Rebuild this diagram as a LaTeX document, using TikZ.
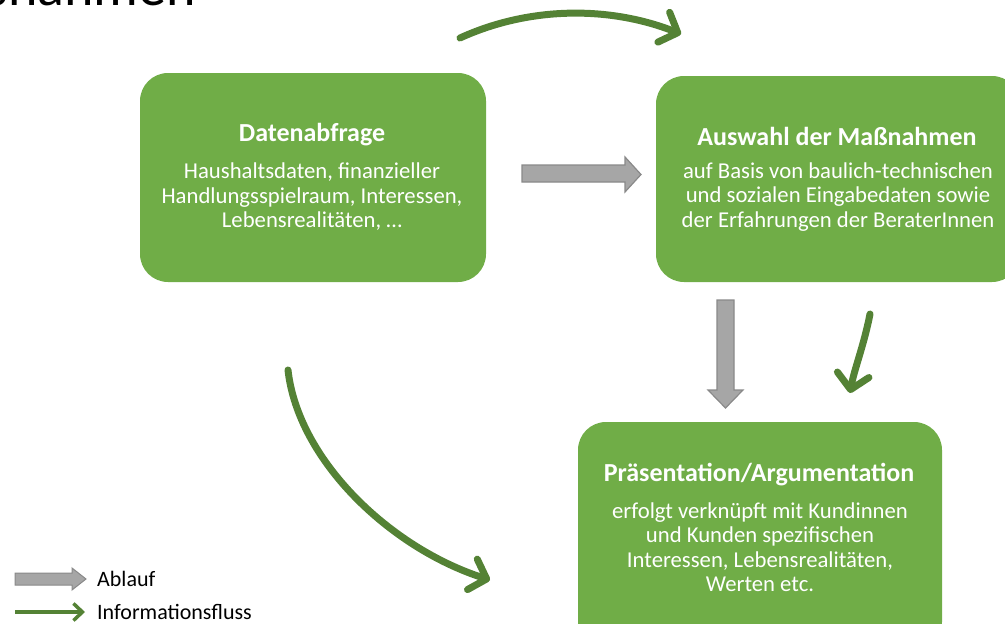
\documentclass[tikz,border=0pt]{standalone}
\usepackage{fontspec}
\setmainfont{Carlito}
\usetikzlibrary{arrows.meta}
\definecolor{boxgreen}{RGB}{112,173,71}
\definecolor{flowgreen}{RGB}{84,130,53}
\definecolor{arrowgray}{RGB}{166,166,166}
\definecolor{arrowedge}{RGB}{137,137,137}
\begin{document}
\begin{tikzpicture}[x=1pt,y=-1pt,
  stagebox/.style={fill=boxgreen, rounded corners=28pt, inner sep=0pt},
  titletext/.style={text=white, font=\fontsize{26}{29}\selectfont\bfseries, inner sep=0pt},
  bodytext/.style={text=white, font=\fontsize{22.7}{24.5}\selectfont, align=center, inner sep=0pt},
  blockarrow/.style={fill=arrowgray, draw=arrowedge, line width=1.2pt, line join=miter},
  infoflow/.style={draw=flowgreen, line width=7pt, line cap=round, -{Straight Barb[length=15pt,width=32pt,round]}},
  legendflow/.style={draw=flowgreen, line width=3.5pt, -{Straight Barb[length=9pt,width=17pt]}},
  legendtext/.style={font=\fontsize{22}{24}\selectfont, anchor=west, inner sep=0pt}
]
\useasboundingbox (0,0) rectangle (1005,624);

% cut-off page title
\node[font=\fontsize{56}{60}\selectfont, anchor=base east, inner sep=0pt] (pagetitle) at (196,5) {Maßnahmen};

% stage boxes
\node[stagebox, minimum width=346pt, minimum height=209pt] (A) at (313,177.5) {};
\node[stagebox, minimum width=364pt, minimum height=206pt] (B) at (838,179) {};
\node[stagebox, minimum width=364pt, minimum height=228pt] (C) at (760,536) {};

\node[titletext] (Atitle) at (312,135) {Datenabfrage};
\node[bodytext] (Abody) at (312,197) {Haushaltsdaten, finanzieller\\Handlungsspielraum, Interessen,\\Lebensrealitäten, \dots};

\node[titletext] (Btitle) at (837,136) {Auswahl der Maßnahmen};
\node[bodytext] (Bbody) at (838,197) {auf Basis von baulich-technischen\\und sozialen Eingabedaten sowie\\der Erfahrungen der BeraterInnen};

\node[titletext] (Ctitle) at (759,475) {Präsentation/Argumentation};
\node[bodytext] (Cbody) at (760,547) {erfolgt verknüpft mit Kundinnen\\und Kunden spezifischen\\Interessen, Lebensrealitäten,\\Werten etc.};

% gray process arrows
\draw[blockarrow] (522,165) -- (625,165) -- (625,157) -- (641,174.5) -- (625,192) -- (625,182) -- (522,182) -- cycle;
\draw[blockarrow] (717,300) -- (734,300) -- (734,390) -- (743,390) -- (725.5,408) -- (708,390) -- (717,390) -- cycle;

% green information-flow arrows
\coordinate (t1) at (460,38);
\coordinate (t2) at (681,34);
\draw[infoflow] (t1) .. controls (530,6) and (610,6) .. (t2);
\coordinate (l1) at (288,370);
\coordinate (l2) at (490,580);
\draw[infoflow] (l1) .. controls (298,460) and (390,548) .. (l2);
\coordinate (r1) at (870,314);
\coordinate (r2) at (850,393);
\draw[infoflow] (r1) .. controls (864,345) and (854,370) .. (r2);

% legend
\draw[blockarrow, line width=1pt] (15,573) -- (72,573) -- (72,568) -- (86,579) -- (72,590) -- (72,585) -- (15,585) -- cycle;
\node[legendtext] (lab1) at (97,579) {Ablauf};
\coordinate (g1) at (15,612);
\coordinate (g2) at (85,612);
\draw[legendflow] (g1) -- (g2);
\node[legendtext] (lab2) at (97,612) {Informationsfluss};
\end{tikzpicture}
\end{document}
